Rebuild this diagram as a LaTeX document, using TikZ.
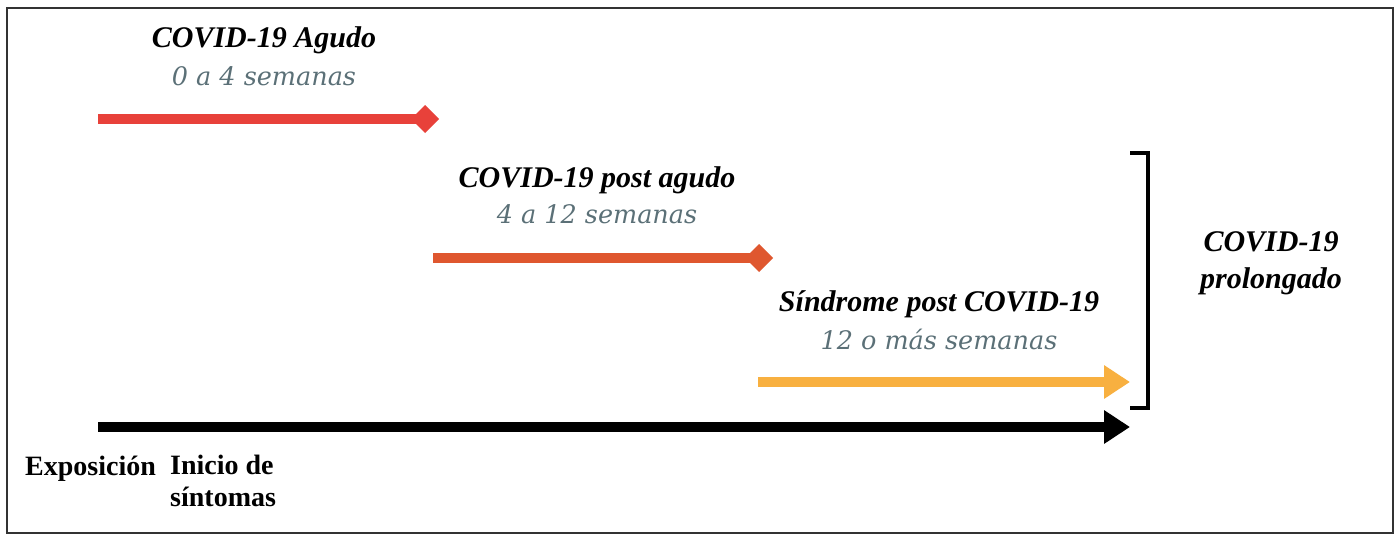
\documentclass[tikz,border=0pt]{standalone}
\usepackage{fontspec}
\setmainfont{Liberation Serif}
\newfontfamily\lightserif{DejaVu Serif}
\usetikzlibrary{arrows.meta}
\definecolor{cred}{HTML}{E8413A}
\definecolor{corange}{HTML}{DF572F}
\definecolor{cyellow}{HTML}{F8B040}
\definecolor{cgray}{HTML}{5B7077}
\definecolor{cframe}{HTML}{333333}
\tikzset{
  title/.style={font=\fontsize{30}{37}\selectfont\bfseries\itshape, inner sep=0pt},
  period/.style={font=\lightserif\fontsize{25.5}{28}\selectfont\itshape, text=cgray, inner sep=0pt},
  axislabel/.style={font=\fontsize{28}{32}\selectfont\bfseries, inner sep=0pt, align=left},
  bar/.style={line width=10pt},
  diamondbar/.style={bar, -{Diamond[length=28pt,width=28pt]}},
  trianglebar/.style={bar, -{Triangle[length=26pt,width=32pt]}},
}
\begin{document}
\begin{tikzpicture}[x=1pt,y=-1pt]
\useasboundingbox (0,0) rectangle (1400,544);
\draw[cframe, line width=2pt] (7,8) rectangle (1393,533);
% coordinates
\coordinate (r0) at (98,119);
\coordinate (r1) at (439,119);
\coordinate (o0) at (433,258);
\coordinate (o1) at (773,258);
\coordinate (y0) at (758,382);
\coordinate (y1) at (1130,382);
\coordinate (k0) at (98,427);
\coordinate (k1) at (1130,427);
\coordinate (b0) at (1130,153);
\coordinate (b1) at (1148,153);
\coordinate (b2) at (1148,408);
\coordinate (b3) at (1130,408);
% bars
\draw[diamondbar, cred] (r0) -- (r1);
\draw[diamondbar, corange] (o0) -- (o1);
\draw[trianglebar, cyellow] (y0) -- (y1);
\draw[trianglebar, black] (k0) -- (k1);
\draw[line width=4pt, black] (b0) -- (b1) -- (b2) -- (b3);
% labels
\node[title] (t1) at (264,40) {COVID-19 Agudo};
\node[period] (p1) at (264,76) {0 a 4 semanas};
\node[title] (t2) at (597,180) {COVID-19 post agudo};
\node[period] (p2) at (597,214) {4 a 12 semanas};
\node[title] (t3) at (939,304) {Síndrome post COVID-19};
\node[period] (p3) at (939,339) {12 o más semanas};
\node[title, align=center] (t4) at (1271,263) {COVID-19\\prolongado};
\node[axislabel, anchor=west] (e1) at (25,469) {Exposición};
\node[axislabel, anchor=north west] (e2) at (170,455) {Inicio de\\síntomas};
\end{tikzpicture}
\end{document}
